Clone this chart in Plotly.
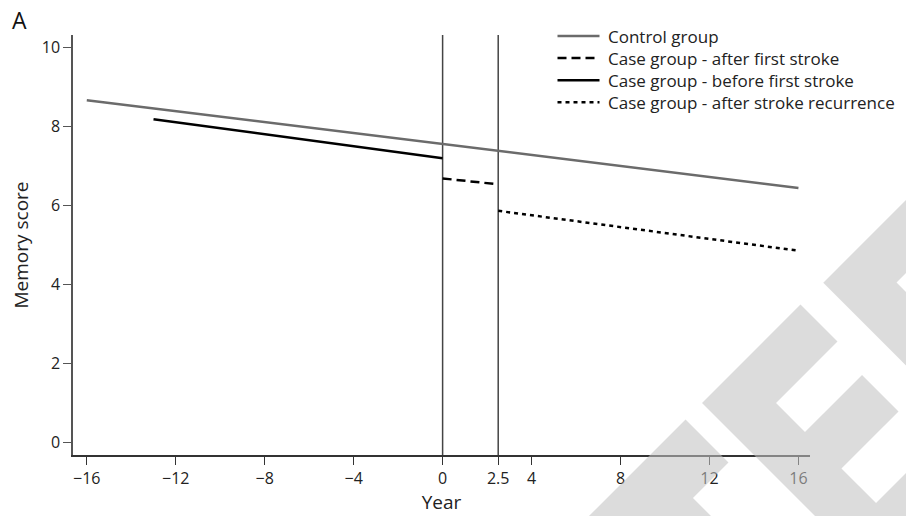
import plotly.graph_objects as go

# ---------------- data ----------------
control_years = [-16, 16]
control_scores = [8.67, 6.45]

after_first_years = [0, 2.5]
after_first_scores = [6.69, 6.54]

before_first_years = [-13, 0]
before_first_scores = [8.19, 7.20]

after_recur_years = [2.5, 16]
after_recur_scores = [5.87, 4.86]

event_years = [0, 2.5]

x_tickvals = [-16, -12, -8, -4, 0, 2.5, 4, 8, 12, 16]
x_ticktext = ["\u221216", "\u221212", "\u22128", "\u22124", "0", "2.5", "4", "8", "12", "16"]
y_tickvals = [0, 2, 4, 6, 8, 10]

# ---------------- layout geometry ----------------
W, H = 906, 516
ML, MR, MT, MB = 73, 96, 35, 61
PW, PH = W - ML - MR, H - MT - MB

FONT = "Open Sans"

def px_to_paper_x(px):
    return (px - ML) / PW

def px_to_paper_y(py):
    return (MT + PH - py) / PH

series = [
    dict(x=control_years, y=control_scores, name="Control group",
         line=dict(color="#6b6b6b", width=2.5)),
    dict(x=after_first_years, y=after_first_scores, name="Case group - after first stroke",
         line=dict(color="#000000", width=2.5, dash="9px,5px")),
    dict(x=before_first_years, y=before_first_scores, name="Case group - before first stroke",
         line=dict(color="#000000", width=2.5)),
    dict(x=after_recur_years, y=after_recur_scores, name="Case group - after stroke recurrence",
         line=dict(color="#000000", width=2.5, dash="4px,4px")),
]

fig = go.Figure()
for s in series:
    fig.add_trace(go.Scatter(x=s["x"], y=s["y"], mode="lines", name=s["name"],
                             line=s["line"], showlegend=False))

for ev in event_years:
    fig.add_shape(type="line", xref="x", yref="paper", x0=ev, x1=ev, y0=0, y1=1,
                  line=dict(color="#444444", width=1.5), layer="below")

# ---------------- legend (drawn manually for tight row spacing) ----------------
LEG_FONT = 17
LEG_X0, LEG_X1, LEG_TX = 557.5, 599.5, 606.5
LEG_Y0 = 36.0
LEG_DY = LEG_FONT * 1.3
for i, s in enumerate(series):
    yy = px_to_paper_y(LEG_Y0 + i * LEG_DY)
    fig.add_shape(type="line", xref="paper", yref="paper",
                  x0=px_to_paper_x(LEG_X0), x1=px_to_paper_x(LEG_X1), y0=yy, y1=yy,
                  line=s["line"])
fig.add_annotation(text="<br>".join(s["name"] for s in series), xref="paper", yref="paper",
                   x=px_to_paper_x(LEG_TX),
                   y=px_to_paper_y(LEG_Y0 + 1.5 * LEG_DY),
                   xanchor="left", yanchor="middle", align="left", borderpad=0,
                   showarrow=False, font=dict(family=FONT, size=LEG_FONT, color="#222222"))

# ---------------- watermark (decoration) ----------------
def to_paper(u, v):
    px = (u - v) / 2.0
    py = (u + v) / 2.0
    return px_to_paper_x(px), px_to_paper_y(py)

def path_from_uv(pts):
    s = ""
    for i, (u, v) in enumerate(pts):
        xp, yp = to_paper(u, v)
        s += ("M" if i == 0 else "L") + f"{xp:.4f},{yp:.4f} "
    return s + "Z"

wm_letters = [
    [(1105, -266), (1191, -266), (1191, -195), (1700, -195), (1700, 200), (1105, 200)],
    [(1105, -299), (1105, -496), (1179, -496), (1179, -373), (1237, -373), (1237, -487),
     (1310, -487), (1310, -373), (1379, -373), (1379, -490), (1700, -490), (1700, -299)],
    [(1106, -540.6), (1106, -800), (1179, -800), (1179, -614), (1237, -614), (1237, -800),
     (1600, -800), (1600, -540.6)],
]
for letter in wm_letters:
    fig.add_shape(type="path", xref="paper", yref="paper", path=path_from_uv(letter),
                  fillcolor="rgb(193,193,193)", opacity=0.57, line=dict(width=0),
                  layer="above")

fig.add_annotation(text="A", xref="paper", yref="paper",
                   x=px_to_paper_x(10), y=px_to_paper_y(20), xanchor="left", yanchor="middle",
                   showarrow=False, font=dict(family=FONT, size=23, color="#111111"))

axis_common = dict(showgrid=False, zeroline=False, showline=True, ticks="outside",
                   ticklen=8, tickwidth=1.2, tickfont=dict(family=FONT, size=16, color="#222222"))

fig.update_layout(
    width=W, height=H,
    margin=dict(l=ML, r=MR, t=MT, b=MB, autoexpand=False),
    paper_bgcolor="white", plot_bgcolor="white",
    font=dict(family=FONT, color="#222222"),
    showlegend=False,
    xaxis=dict(range=[-16.62, 16.52], tickvals=x_tickvals, ticktext=x_ticktext,
               linecolor="#333333", tickcolor="#333333", linewidth=1.5,
               title=dict(text="Year", font=dict(family=FONT, size=19, color="#222222"), standoff=4),
               **axis_common),
    yaxis=dict(range=[-0.31, 10.32], tickvals=y_tickvals,
               linecolor="#555555", tickcolor="#555555", linewidth=1.5,
               title=dict(text="Memory score", font=dict(family=FONT, size=19, color="#222222"), standoff=8),
               **axis_common),
)

fig.write_html("out.html", post_script="document.body.style.margin='0';",
               config={"displayModeBar": False})
